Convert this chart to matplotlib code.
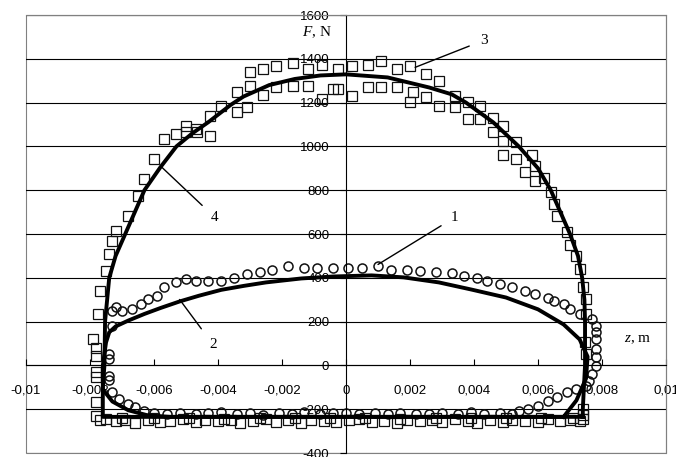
import matplotlib
matplotlib.use("Agg")
import matplotlib.pyplot as plt
from matplotlib.patches import Rectangle
from matplotlib.ticker import FuncFormatter

plt.rcParams['font.family'] = 'Liberation Sans'
plt.rcParams['mathtext.fontset'] = 'custom'
plt.rcParams['mathtext.rm'] = 'Liberation Serif'
plt.rcParams['mathtext.it'] = 'Liberation Serif:italic'

# measured points, curve 3 (squares)
sq_z = [-0.0078, -0.0078, -0.0078, -0.0078, -0.0077, -0.0078, -0.0079, -0.0078,
        -0.00775, -0.0077, -0.0075, -0.0074, -0.0073, -0.0072, -0.0068, -0.0065,
        -0.0063, -0.0060, -0.0057, -0.0053, -0.0050, -0.0047, -0.0050, -0.00466,
        -0.00425, -0.00425, -0.0039, -0.0034, -0.0034, -0.0031, -0.0030, -0.0030,
        -0.0026, -0.0026, -0.0022, -0.0022, -0.00165, -0.00165, -0.0012, -0.0012,
        -0.00075, -0.00075, -0.0004, -0.00025, -0.00025, 0.0002, 0.0002, 0.0007,
        0.0007, 0.0011, 0.0011, 0.0016, 0.0016, 0.0020, 0.0021, 0.0020, 0.0025,
        0.0025, 0.0029, 0.0029, 0.0034, 0.0034, 0.0038, 0.0038, 0.0042, 0.0042,
        0.0046, 0.0046, 0.0049, 0.0049, 0.0053, 0.0049, 0.0053, 0.0058, 0.0056,
        0.0059, 0.0059, 0.0062, 0.0064, 0.0065, 0.0066, 0.0069, 0.0070, 0.0072,
        0.0073, 0.0074, 0.0075, 0.0075, 0.00746, 0.0075, 0.0074, 0.0074, 0.0074,
        -0.0075, -0.0072, -0.0069, -0.0066, -0.0062, -0.0058, -0.0055, -0.0051,
        -0.0047, -0.0044, -0.0040, -0.0036, -0.0033, -0.0029, -0.0025, -0.0022,
        -0.0018, -0.0014, -0.0011, -0.0007, -0.0003, 0.0001, 0.0004, 0.0008,
        0.0012, 0.0016, 0.0019, 0.0023, 0.0027, 0.0030, 0.0034, 0.0038, 0.0041,
        0.0045, 0.0049, 0.0052, 0.0056, 0.0060, 0.0063, 0.0067, 0.0070, 0.0073,
        -0.0070, -0.0060, -0.0049, -0.0038, -0.0027, -0.0016, -0.0005, 0.0006,
        0.0017, 0.0028, 0.0039, 0.0050, 0.0061, 0.0071]
sq_f = [-169, -233, -32, -55, -250, 41, 119, 80,
        233, 338, 430, 507, 566, 612, 680, 772,
        849, 941, 1032, 1055, 1064, 1078, 1091, 1064,
        1046, 1137, 1183, 1155, 1247, 1178, 1274, 1338,
        1352, 1237, 1365, 1269, 1383, 1274, 1352, 1274,
        1374, 1215, 1260, 1352, 1260, 1365, 1228, 1374,
        1269, 1388, 1269, 1352, 1269, 1365, 1247, 1205, 1329,
        1224, 1297, 1183, 1228, 1178, 1205, 1123, 1183, 1123,
        1132, 1064, 1091, 1023, 1018, 963, 941, 963, 881,
        909, 840, 858, 790, 735, 680, 607, 552, 498,
        438, 356, 301, 233, 105, 50, -201, -225, -247,
        -245, -255, -250, -262, -248, -258, -252, -245,
        -260, -250, -256, -248, -262, -252, -246, -258,
        -250, -262, -248, -255, -260, -250, -245, -258,
        -252, -262, -248, -256, -250, -260, -246, -255, -262,
        -250, -258, -248, -255, -260, -245, -252, -250, -255,
        -240, -242, -240, -243, -241, -240, -242, -240,
        -243, -241, -240, -242, -241, -240]

# measured points, curve 1 (circles)
ci_z = [-0.0074, -0.0074, -0.0074, -0.0074, -0.0073, -0.0071, -0.0068, -0.0066,
        -0.0063, -0.0073, -0.0073, -0.0072, -0.0070, -0.0067, -0.0064, -0.0062,
        -0.0059, -0.0057, -0.0053, -0.0050, -0.0047, -0.0043, -0.0039, -0.0035,
        -0.0031, -0.0027, -0.0023, -0.0018, -0.0013, -0.0009, -0.0004, 0.00006,
        0.0005, 0.0010, 0.0014, 0.0019, 0.0023, 0.0028, 0.0033, 0.0037, 0.0041,
        0.0044, 0.0048, 0.0052, 0.0056, 0.0059, 0.0063, 0.0065, 0.0068, 0.0070,
        0.0073, 0.0077, 0.0078, 0.0078, 0.0078, 0.0078, 0.0078, 0.0078, 0.0077,
        0.0076, 0.0075, 0.0072, 0.0069, 0.0066, 0.0063, 0.0060, 0.0057, 0.0054,
        -0.0060, -0.0056, -0.0052, -0.0047, -0.0043, -0.0039, -0.0034, -0.0030,
        -0.0026, -0.0021, -0.0017, -0.0013, -0.0008, -0.0004, 0.0000, 0.0004,
        0.0009, 0.0013, 0.0017, 0.0022, 0.0026, 0.0030, 0.0035, 0.0039, 0.0043,
        0.0048, 0.0052]
ci_f = [50, 27, -50, -66, -123, -155, -178, -192,
        -210, 178, 247, 265, 247, 256, 279, 301,
        315, 356, 379, 393, 384, 384, 384, 397,
        416, 425, 434, 452, 447, 447, 443, 443,
        443, 455, 434, 434, 429, 425, 420, 406, 397,
        384, 370, 356, 338, 324, 310, 292, 279, 256,
        233, 210, 178, 151, 119, 73, 37, -5, -41,
        -73, -96, -110, -123, -146, -164, -187, -201, -210,
        -218, -222, -216, -224, -219, -214, -222, -218,
        -225, -217, -221, -215, -223, -219, -216, -222,
        -218, -224, -216, -220, -223, -217, -221, -215, -222,
        -219, -221]

# calculated curve 2
c2_z = [0.0068, 0.0072, 0.0075, 0.00755, 0.0073, 0.0068, 0.0060, 0.0050,
        0.0039, 0.0029, 0.0018, 0.0008, -0.0004, -0.0014, -0.0025, -0.0032,
        -0.0039, -0.0046, -0.0052, -0.0058, -0.0063, -0.0068, -0.0072, -0.0074,
        -0.0075, -0.0076, -0.0076, -0.0073, -0.0068, -0.0062, -0.0055, 0.0068]
c2_f = [-235, -160, -60, 40, 119, 187, 256, 310,
        347, 379, 402, 411, 406, 397, 379, 363,
        345, 318, 292, 262, 235, 205, 178, 151,
        105, 0, -110, -165, -205, -228, -235, -235]

# calculated curve 4
c4_z = [0.0074, 0.0, -0.0076, -0.0076, -0.00755, -0.00753, -0.0074, -0.0072,
        -0.0069, -0.0066, -0.0063, -0.0058, -0.0053, -0.0048, -0.0043, -0.0036,
        -0.0032, -0.0024, -0.0016, -0.0008, 0.0, 0.0013, 0.0026, 0.0033, 0.00375,
        0.0046, 0.0054, 0.0060, 0.0064, 0.0067, 0.0070, 0.00725, 0.00738,
        0.00745, 0.00747, 0.00747, 0.0074, 0.0074]
c4_f = [-235, -235, -235, -100, 0, 200, 400, 500,
        600, 700, 800, 905, 1000, 1060, 1111, 1190,
        1228, 1280, 1308, 1324, 1329, 1315, 1269, 1238, 1200,
        1110, 1000, 900, 800, 700, 600, 500, 400,
        300, 200, 0, -200, -235]

fig = plt.figure(figsize=(6.76, 4.57), dpi=100)
ax = fig.add_axes([0.0385, 0.00875, 0.9467, 0.9584])

ax.set_xlim(-0.01, 0.01)
ax.set_ylim(-400, 1600)
ax.set_xticks([-0.01, -0.008, -0.006, -0.004, -0.002, 0, 0.002, 0.004, 0.006, 0.008, 0.01])
ax.set_yticks(range(-400, 1601, 200))
ax.yaxis.grid(True, color='black', lw=0.8)
ax.set_axisbelow(True)

ax.xaxis.set_major_formatter(FuncFormatter(lambda v, p: ('%g' % round(v, 4)).replace('.', ',')))
ax.yaxis.set_major_formatter(FuncFormatter(lambda v, p: '%d' % v))

for s in ['top', 'right']:
    ax.spines[s].set_color('#808080')
    ax.spines[s].set_linewidth(0.8)
ax.spines['left'].set_position(('data', 0))
ax.spines['bottom'].set_position(('data', 0))
ax.spines['left'].set_linewidth(0.8)
ax.spines['bottom'].set_linewidth(0.8)
ax.add_patch(Rectangle((0, 0), 1, 1, transform=ax.transAxes, fill=False,
                       edgecolor='#808080', lw=0.8, clip_on=False, zorder=0))

ax.tick_params(axis='x', direction='in', length=4, width=0.8, pad=14, labelsize=9.5)
ax.tick_params(axis='y', direction='out', length=4, width=0.8, pad=8, labelsize=9.5)

ax.plot(sq_z, sq_f, ls='none', marker='s', ms=7.5, mfc='none', mec='#111111', mew=0.9, clip_on=False)
ax.plot(ci_z, ci_f, ls='none', marker='o', ms=6.5, mfc='none', mec='#111111', mew=1.1, clip_on=False)
ax.plot(c2_z, c2_f, color='black', lw=2.8, solid_joinstyle='round')
ax.plot(c4_z, c4_f, color='black', lw=2.8, solid_joinstyle='round')

ax.text(-0.00044, 1520, '$F$, N', ha='right', va='center', fontsize=11, family='Liberation Serif')
ax.text(0.0087, 119, '$z$, m', ha='left', va='center', fontsize=11, family='Liberation Serif')

lab = dict(fontsize=11, family='Liberation Serif', ha='center', va='center',
           arrowprops=dict(arrowstyle='-', color='black', lw=1, shrinkA=6, shrinkB=0))
ax.annotate('1', xy=(0.001, 461), xytext=(0.0034, 676), **lab)
ax.annotate('2', xy=(-0.0052, 301), xytext=(-0.00416, 96), **lab)
ax.annotate('3', xy=(0.00216, 1361), xytext=(0.0043, 1484), **lab)
ax.annotate('4', xy=(-0.00575, 904), xytext=(-0.0041, 676), **lab)

fig.savefig('out.png', dpi=100)
